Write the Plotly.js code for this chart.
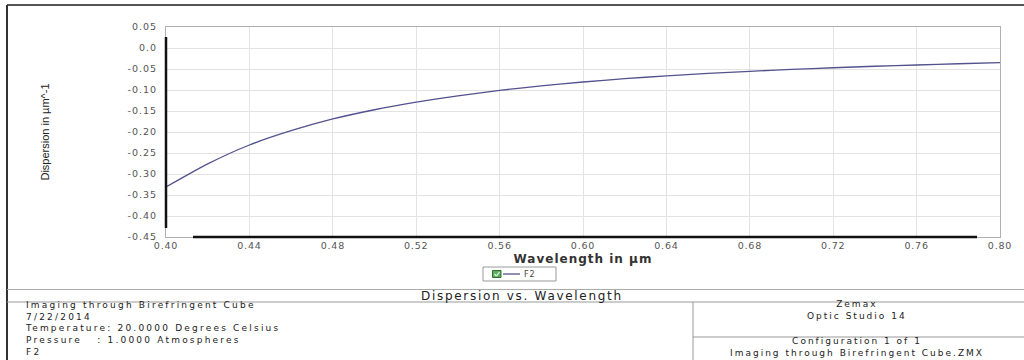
<!DOCTYPE html>
<html>
<head>
<meta charset="utf-8">
<script src="https://cdn.plot.ly/plotly-3.0.1.min.js"></script>
<style>
html,body{margin:0;padding:0;background:#fff;}
#chart{width:1024px;height:360px;}
</style>
</head>
<body>
<div id="chart"></div>
<script>
// Wavelength (µm) and dispersion dn/dλ (µm^-1) of F2 glass
const wavelength = [0.40, 0.42, 0.44, 0.46, 0.48, 0.50, 0.52, 0.54, 0.56, 0.58, 0.60,
                    0.62, 0.64, 0.66, 0.68, 0.70, 0.72, 0.74, 0.76, 0.78, 0.80];
const dispersion = [-0.331, -0.276, -0.231, -0.197, -0.169, -0.147, -0.129, -0.114, -0.101, -0.090, -0.081,
                    -0.073, -0.0665, -0.0605, -0.0555, -0.051, -0.047, -0.0435, -0.0405, -0.0375, -0.035];
const seriesName = 'F2';

const xTickVals = [0.40, 0.44, 0.48, 0.52, 0.56, 0.60, 0.64, 0.68, 0.72, 0.76, 0.80];
const xTickText = ['0.40', '0.44', '0.48', '0.52', '0.56', '0.60', '0.64', '0.68', '0.72', '0.76', '0.80'];
const yTickVals = [0.05, 0.0, -0.05, -0.10, -0.15, -0.20, -0.25, -0.30, -0.35, -0.40, -0.45];
const yTickText = ['0.05', '0.0', '-0.05', '-0.10', '-0.15', '-0.20', '-0.25', '-0.30', '-0.35', '-0.40', '-0.45'];

const infoLines = ['Imaging through Birefringent Cube', '7/22/2014',
                   'Temperature: 20.0000 Degrees Celsius', 'Pressure   : 1.0000 Atmospheres', 'F2'];
const chartTitle = 'Dispersion vs. Wavelength';
const rightTop = ['Zemax', 'Optic Studio 14'];
const rightBottom = ['Configuration 1 of 1', 'Imaging through Birefringent Cube.ZMX'];
const xTitle = 'Wavelength in µm';
const yTitle = 'Dispersion in µm^-1';

// layout helpers (pixel -> paper)
const L = 166, R = 1000, T = 27, B = 237;
const px = x => (x - L) / (R - L);
const py = y => (B - y) / (B - T);

const FONT = 'DejaVu Sans, Verdana, sans-serif';
const LINE_COLOR = '#52528e';
const wide = (s, sp) => '<span style="letter-spacing:' + sp + 'px">' + s + '</span>';
const nb = s => s.replace(/ {2,}/g, m => '&nbsp;'.repeat(m.length));

const shapes = [];
function line(x0, y0, x1, y1, color, width, layer) {
  shapes.push({type: 'line', xref: 'paper', yref: 'paper',
    x0: px(x0), y0: py(y0), x1: px(x1), y1: py(y1),
    line: {color: color, width: width}, layer: layer || 'below'});
}
function rect(x0, y0, x1, y1, stroke, fill, layer) {
  shapes.push({type: 'rect', xref: 'paper', yref: 'paper',
    x0: px(x0), y0: py(y0), x1: px(x1), y1: py(y1),
    line: {color: stroke, width: 1}, fillcolor: fill, layer: layer || 'below'});
}
// outer frame
line(7, 5, 1024, 5, '#555', 2);
line(7, 5, 7, 360, '#333', 2);
// black axis segments
line(166, 37, 166, 228, '#111', 2.5, 'above');
line(193, 237, 977, 237, '#111', 2.5, 'above');
// info box lines
line(7, 289.5, 1024, 289.5, '#aaa', 1);
line(7, 302, 1024, 302, '#999', 1);
line(693, 302, 693, 360, '#999', 1);
line(693, 337, 1024, 337, '#999', 1);
// legend box, checkbox and line sample
rect(483, 267, 556, 281, '#999', '#fff');
rect(492.5, 270.5, 501, 277.5, '#2f6f2f', '#5fae5f');
line(494.5, 274, 496.5, 276, '#e8f5e8', 1.2);
line(496.5, 276, 499.5, 272, '#e8f5e8', 1.2);
line(503, 274, 520, 274, LINE_COLOR, 1.3);

const annotations = [];
function txt(text, x, y, size, anchor, extra) {
  annotations.push(Object.assign({text: text, xref: 'paper', yref: 'paper', x: px(x), y: py(y),
    xanchor: anchor, yanchor: 'middle', showarrow: false, align: anchor === 'left' ? 'left' : 'center',
    font: {family: FONT, size: size, color: '#222'}}, extra || {}));
}
txt(infoLines.map(s => wide(nb(s), 2.2)).join('<br>'), 23, 328, 9, 'left');
txt(wide(chartTitle, 1.7), 522, 295.5, 12, 'center');
txt(rightTop.map(s => wide(s, 2)).join('<br>'), 857, 310, 9, 'center');
txt(rightBottom.map(s => wide(s, 2)).join('<br>'), 857, 347, 9, 'center');
// legend name
txt(wide(seriesName, 0.8), 522, 274.5, 8, 'left', {font: {family: FONT, size: 8, color: '#444'}});

const data = [{
  x: wavelength, y: dispersion, type: 'scatter', mode: 'lines', name: seriesName,
  line: {color: LINE_COLOR, width: 1.3, shape: 'spline', smoothing: 0.6}
}];

const layout = {
  width: 1024, height: 360,
  margin: {l: L, r: 1024 - R, t: T, b: 360 - B, pad: 0},
  paper_bgcolor: '#fff', plot_bgcolor: '#fff',
  showlegend: false,
  xaxis: {
    range: [0.40, 0.80], tickvals: xTickVals, ticktext: xTickText.map(s => wide(s, 0.8)),
    showgrid: true, gridcolor: '#e3e3e3', gridwidth: 1,
    showline: true, linecolor: '#b0b0b0', linewidth: 1, mirror: true,
    zeroline: false, ticks: '',
    tickfont: {family: FONT, size: 9.5, color: '#555'},
    title: {text: wide(xTitle, 1), standoff: 4,
      font: {family: FONT, size: 12, color: '#333', weight: 'bold'}}
  },
  yaxis: {
    range: [-0.45, 0.05], tickvals: yTickVals, ticktext: yTickText.map(s => wide(s, 1)),
    showgrid: true, gridcolor: '#e3e3e3', gridwidth: 1,
    showline: true, linecolor: '#b0b0b0', linewidth: 1, mirror: true,
    zeroline: false, ticks: '', ticklabelstandoff: 6,
    tickfont: {family: FONT, size: 9.5, color: '#555'},
    title: {text: yTitle, standoff: 75,
      font: {family: 'Liberation Sans Narrow, Liberation Sans, sans-serif', size: 11, color: '#222'}}
  },
  shapes: shapes,
  annotations: annotations
};

Plotly.newPlot('chart', data, layout, {displayModeBar: false, staticPlot: true});
</script>
</body>
</html>
